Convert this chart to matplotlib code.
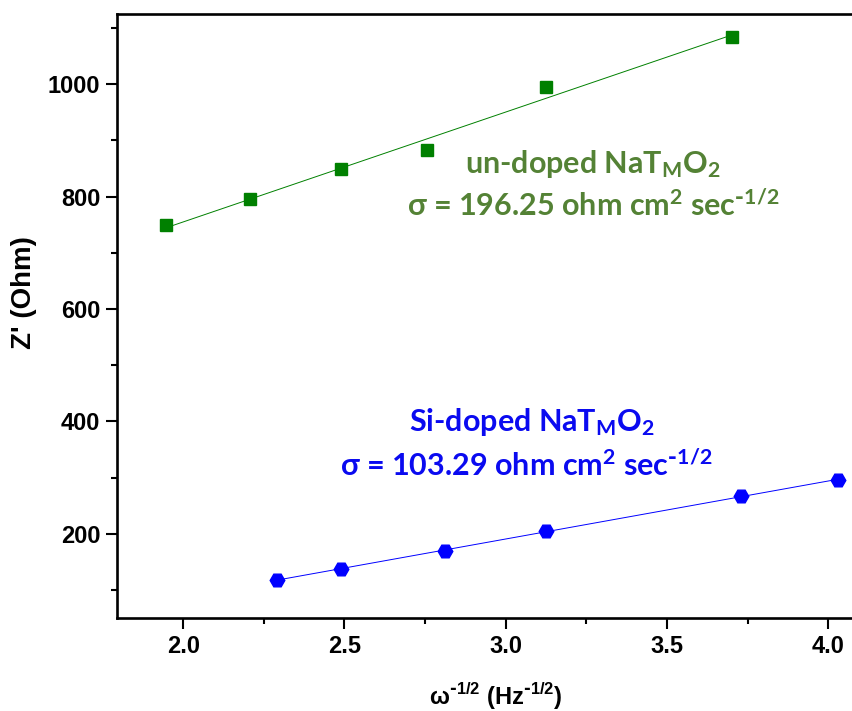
import numpy as np
import matplotlib
matplotlib.use("Agg")
import matplotlib.pyplot as plt

# Z' vs omega^-1/2 for the two cathode samples
x_undoped = [1.947, 2.207, 2.491, 2.756, 3.126, 3.701]
z_undoped = [748.6, 796.6, 849.4, 883.0, 995.2, 1083.5]

x_sidoped = [2.291, 2.491, 2.811, 3.124, 3.730, 4.029]
z_sidoped = [117.5, 137.8, 170.0, 204.6, 267.5, 295.3]

sigma_undoped = 196.25
sigma_sidoped = 103.29

plt.rcParams["font.family"] = "Liberation Sans"
plt.rcParams["font.weight"] = "bold"
txt_font = ["Lato", "DejaVu Sans"]

fig = plt.figure(figsize=(8.53, 7.11), dpi=100)
ax = fig.add_axes([0.1372, 0.1308, 0.8715, 0.8495])

# linear fits through each series
for xs, zs, col, mk, ms in [(x_undoped, z_undoped, "#008000", "s", 8.6),
                            (x_sidoped, z_sidoped, "#0000ff", "H", 10.5)]:
    xs = np.array(xs)
    zs = np.array(zs)
    p = np.polyfit(xs, zs, 1)
    xf = np.array([xs.min(), xs.max()])
    ax.plot(xf, np.polyval(p, xf), color=col, lw=0.7, zorder=2)
    ax.plot(xs, zs, ls="none", marker=mk, ms=ms, color=col, mec=col, zorder=3)

ax.set_xlim(1.795, 4.1)
ax.set_ylim(50, 1125)
ax.set_xticks([2.0, 2.5, 3.0, 3.5, 4.0])
ax.set_xticks([2.25, 2.75, 3.25, 3.75], minor=True)
ax.set_yticks([200, 400, 600, 800, 1000])
ax.set_yticks([100, 300, 500, 700, 900, 1100], minor=True)
ax.xaxis.set_major_formatter(matplotlib.ticker.FormatStrFormatter("%.1f"))

for s in ax.spines.values():
    s.set_linewidth(1.9)
ax.spines["right"].set_visible(False)
ax.tick_params(which="major", direction="out", length=8, width=1.5, pad=4,
               labelsize=17)
ax.tick_params(which="minor", direction="out", length=4.5, width=1.5)

ax.set_ylabel("Z' (Ohm)", fontweight="bold", fontsize=20)
ax.yaxis.set_label_coords(-0.108, 0.538)
ax.set_xlabel(r"ω$^{\mathregular{\text{-}1/2}}$ (Hz$^{\mathregular{\text{-}1/2}}$)",
              fontweight="bold", fontsize=17)
ax.xaxis.set_label_coords(0.509, -0.104)

green_txt = "#548235"
blue_txt = "#0a0af0"
line1 = r"%s NaT$\mathregular{_M}$O$\mathregular{_2}$"
line2 = r"σ = %.2f ohm cm$\mathregular{^2}$ sec$\mathregular{^{\text{-}1/2}}$"
kw = dict(family=txt_font, weight="bold", fontsize=22, ha="center", va="baseline")
ax.text(3.271, 842.3, line1 % "un-doped", color=green_txt, **kw)
ax.text(3.270, 765.9, line2 % sigma_undoped, color=green_txt, **kw)
ax.text(3.082, 382.4, line1 % "Si-doped", color=blue_txt, **kw)
ax.text(3.065, 302.4, line2 % sigma_sidoped, color=blue_txt, **kw)

fig.savefig("out.png", dpi=100)
